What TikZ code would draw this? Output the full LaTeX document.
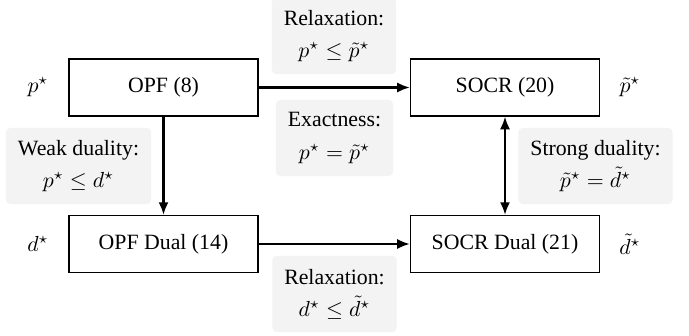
\documentclass[tikz,border=0pt]{standalone}
\usepackage{fontspec}
\setmainfont{Liberation Serif}
\usetikzlibrary{arrows.meta}
\definecolor{boxgray}{RGB}{243,243,243}
\begin{document}
\begin{tikzpicture}[x=0.4587pt,y=-0.4587pt,
 prob/.style={draw,line width=0.6pt,minimum width=86.7pt,minimum height=26.1pt,inner sep=0pt},
 note/.style={fill=boxgray,rounded corners=2pt,align=center,inner xsep=5.5pt,minimum height=34.9pt},
 tip/.tip={Latex[length=5.8pt,width=4.6pt]},
 link/.style={line width=0.95pt,-tip},
 link2/.style={line width=0.95pt,tip-tip},
 val/.style={inner sep=1pt}]
\useasboundingbox (0,0) rectangle (689,335);
% gray annotation boxes
\node[note] (relaxtop) at (334,36) {Relaxation:\\[2.7pt] $p^\star \le \tilde{p}^\star$};
\node[note] (exact) at (334.5,138) {Exactness:\\[2.7pt] $p^\star = \tilde{p}^\star$};
\node[note] (weak) at (78.5,166) {Weak duality:\\[2.7pt] $p^\star \le d^\star$};
\node[note] (strong) at (595.5,166) {Strong duality:\\[2.7pt] $\tilde{p}^\star = \tilde{d}^\star$};
\node[note] (relaxbot) at (334.5,294) {Relaxation:\\[2.7pt] $d^\star \le \tilde{d}^\star$};
% problem boxes
\node[prob] (opf) at (163.5,87.5) {OPF (8)};
\node[prob] (socr) at (505,87.5) {SOCR (20)};
\node[prob] (opfd) at (163.5,244) {OPF Dual (14)};
\node[prob] (socrd) at (505,244) {SOCR Dual (21)};
% values
\node[val] (pv) at (38,87.5) {$p^\star$};
\node[val] (ptv) at (630,87.5) {$\tilde{p}^\star$};
\node[val] (dv) at (38,244) {$d^\star$};
\node[val] (dtv) at (630,244) {$\tilde{d}^\star$};
% connectors
\draw[link] (opf) -- (socr);
\draw[link] (opfd) -- (socrd);
\draw[link] (opf) -- (opfd);
\draw[link2] (socr) -- (socrd);
\end{tikzpicture}
\end{document}
